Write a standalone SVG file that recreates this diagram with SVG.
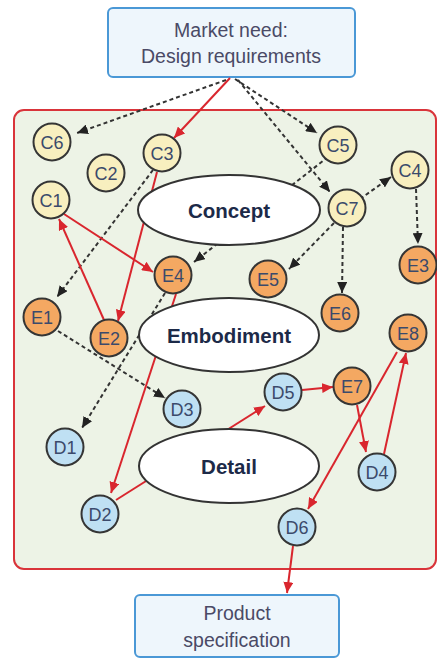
<svg xmlns="http://www.w3.org/2000/svg" width="437" height="659" viewBox="0 0 437 659">
<defs>
<marker id="ar" markerUnits="userSpaceOnUse" markerWidth="12" markerHeight="10" refX="11" refY="5" orient="auto"><path d="M0,0 L11,5 L0,10 z" fill="#d9262e"/></marker>
<marker id="ak" markerUnits="userSpaceOnUse" markerWidth="12" markerHeight="10" refX="11" refY="5" orient="auto"><path d="M0,0 L11,5 L0,10 z" fill="#222"/></marker>
</defs>
<style>
.box{fill:#eef6fc;stroke:#4a98d6;stroke-width:2}
.bt{font-family:"Liberation Sans",Arial,sans-serif;font-size:19.5px;fill:#4a4a66;text-anchor:middle}
.red{stroke:#d9262e;stroke-width:2;fill:none;marker-end:url(#ar)}
.dash{stroke:#333;stroke-width:2;stroke-dasharray:4 3;fill:none;marker-end:url(#ak)}
.stage{fill:#fff;stroke:#333;stroke-width:2}
.st{font-family:"Liberation Sans",Arial,sans-serif;font-size:20.5px;font-weight:bold;fill:#1c2a48;text-anchor:middle}
.n{stroke:#353535;stroke-width:2}
.c{fill:#f8efbf}
.e{fill:#f4a862}
.d{fill:#bfe0f3}
.nt{font-family:"Liberation Sans",Arial,sans-serif;font-size:18px;fill:#3b4a6b;text-anchor:middle}
</style>
<rect id="frame" x="14" y="110" width="422" height="459" rx="10" fill="#edf3e6" stroke="#d9343a" stroke-width="2"/>
<g id="market"><rect class="box" x="108" y="8" width="247" height="69" rx="5"/><text class="bt" x="231" y="37">Market need:</text><text class="bt" x="231" y="63">Design requirements</text></g>
<g id="product"><rect class="box" x="135" y="595" width="204" height="62" rx="5"/><text class="bt" x="237" y="620">Product</text><text class="bt" x="237" y="647">specification</text></g>
<g id="connectors">
<path class="dash" d="M226,80 L77,133"/>
<path class="dash" d="M235,79 L317,133"/>
<path class="dash" d="M238,80 L330,192"/>
<path class="dash" d="M153,170 L57,297"/>
<path class="dash" d="M328,157 L194,262"/>
<path class="dash" d="M360,199 L391,177"/>
<path class="dash" d="M416,189 L418,244"/>
<path class="dash" d="M334,223 L289,269"/>
<path class="dash" d="M343,227 L342,293"/>
<path class="dash" d="M58,331 L165,398"/>
<path class="dash" d="M165,293 L82,428"/>
<path class="red" d="M230,78 L174,138"/>
<path class="red" d="M157,172 L118,321"/>
<path class="red" d="M64,214 L153,272"/>
<path class="red" d="M104,320 L59,219"/>
<path class="red" d="M176,294 L111,493"/>
<path class="red" d="M116,500 L265,406"/>
<path class="red" d="M302,390 L333,387"/>
<path class="red" d="M357,405 L366,452"/>
<path class="red" d="M384,454 L406,353"/>
<path class="red" d="M397,352 L308,509"/>
<path class="red" d="M293,546 L287,593"/>
</g>
<g id="concept"><ellipse class="stage" cx="229" cy="210" rx="91" ry="35"/><text class="st" x="229" y="218">Concept</text></g>
<g id="embodiment"><ellipse class="stage" cx="229" cy="335" rx="90" ry="37"/><text class="st" x="229" y="343">Embodiment</text></g>
<g id="detail"><ellipse class="stage" cx="229" cy="466" rx="90" ry="37"/><text class="st" x="229" y="474">Detail</text></g>
<g id="C6"><circle class="n c" cx="52" cy="142" r="18.5"/><text class="nt" x="52" y="148.5">C6</text></g>
<g id="C2"><circle class="n c" cx="106" cy="173" r="18.5"/><text class="nt" x="106" y="179.5">C2</text></g>
<g id="C3"><circle class="n c" cx="162" cy="153" r="18.5"/><text class="nt" x="162" y="159.5">C3</text></g>
<g id="C1"><circle class="n c" cx="51" cy="200" r="18.5"/><text class="nt" x="51" y="206.5">C1</text></g>
<g id="C5"><circle class="n c" cx="338" cy="145" r="18.5"/><text class="nt" x="338" y="151.5">C5</text></g>
<g id="C4"><circle class="n c" cx="410" cy="170" r="18.5"/><text class="nt" x="410" y="176.5">C4</text></g>
<g id="C7"><circle class="n c" cx="347" cy="208" r="18.5"/><text class="nt" x="347" y="214.5">C7</text></g>
<g id="E4"><circle class="n e" cx="173" cy="275" r="18.5"/><text class="nt" x="173" y="281.5">E4</text></g>
<g id="E5"><circle class="n e" cx="268" cy="279" r="18.5"/><text class="nt" x="268" y="285.5">E5</text></g>
<g id="E6"><circle class="n e" cx="340" cy="313" r="18.5"/><text class="nt" x="340" y="319.5">E6</text></g>
<g id="E3"><circle class="n e" cx="418" cy="265" r="18.5"/><text class="nt" x="418" y="271.5">E3</text></g>
<g id="E1"><circle class="n e" cx="42" cy="317" r="18.5"/><text class="nt" x="42" y="323.5">E1</text></g>
<g id="E2"><circle class="n e" cx="109" cy="338" r="18.5"/><text class="nt" x="109" y="344.5">E2</text></g>
<g id="E8"><circle class="n e" cx="408" cy="333" r="18.5"/><text class="nt" x="408" y="339.5">E8</text></g>
<g id="E7"><circle class="n e" cx="352" cy="386" r="18.5"/><text class="nt" x="352" y="392.5">E7</text></g>
<g id="D5"><circle class="n d" cx="283" cy="392" r="18.5"/><text class="nt" x="283" y="398.5">D5</text></g>
<g id="D3"><circle class="n d" cx="182" cy="409" r="18.5"/><text class="nt" x="182" y="415.5">D3</text></g>
<g id="D1"><circle class="n d" cx="65" cy="447" r="18.5"/><text class="nt" x="65" y="453.5">D1</text></g>
<g id="D4"><circle class="n d" cx="377" cy="472" r="18.5"/><text class="nt" x="377" y="478.5">D4</text></g>
<g id="D2"><circle class="n d" cx="100" cy="514" r="18.5"/><text class="nt" x="100" y="520.5">D2</text></g>
<g id="D6"><circle class="n d" cx="297" cy="527" r="18.5"/><text class="nt" x="297" y="533.5">D6</text></g>
</svg>
